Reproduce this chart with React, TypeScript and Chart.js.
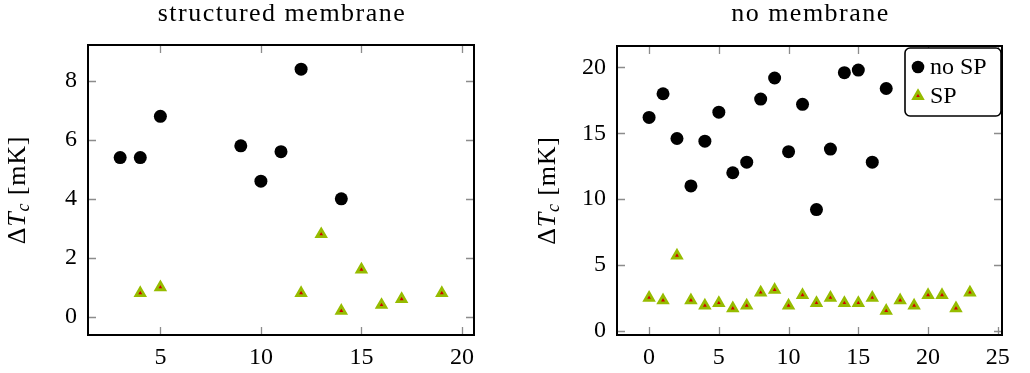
import React, { useEffect, useRef } from "react";
import { Chart, registerables } from "chart.js";

Chart.register(...registerables);

// ---------- data ----------
const leftTitle = "structured membrane";
const rightTitle = "no membrane";
const seriesNames = ["no SP", "SP"];

const leftNoSpX = [3, 4, 5, 9, 10, 11, 12, 14];
const leftNoSpY = [5.4, 5.4, 6.8, 5.8, 4.6, 5.6, 8.4, 4.0];
const leftSpX = [4, 5, 12, 13, 14, 15, 16, 17, 19];
const leftSpY = [0.8, 1.0, 0.8, 2.8, 0.2, 1.6, 0.4, 0.6, 0.8];

const rightNoSpX = [0, 1, 2, 3, 4, 5, 6, 7, 8, 9, 10, 11, 12, 13, 14, 15, 16, 17];
const rightNoSpY = [16.2, 18.0, 14.6, 11.0, 14.4, 16.6, 12.0, 12.8, 17.6, 19.2, 13.6, 17.2, 9.2, 13.8, 19.6, 19.8, 12.8, 18.4];
const rightSpX = [0, 1, 2, 3, 4, 5, 6, 7, 8, 9, 10, 11, 12, 13, 14, 15, 16, 17, 18, 19, 20, 21, 22, 23];
const rightSpY = [2.5, 2.3, 5.7, 2.3, 1.9, 2.1, 1.7, 1.9, 2.9, 3.1, 1.9, 2.7, 2.1, 2.5, 2.1, 2.1, 2.5, 1.5, 2.3, 1.9, 2.7, 2.7, 1.7, 2.9];

const leftXTicks = [5, 10, 15, 20];
const leftYTicks = [0, 2, 4, 6, 8];
const rightXTicks = [0, 5, 10, 15, 20, 25];
const rightYTicks = [0, 5, 10, 15, 20];

const leftXRange = [1.4, 20.6];
const leftYRange = [-0.62, 9.22];
const rightXRange = [-2.3, 25.3];
const rightYRange = [-0.33, 21.63];

// ---------- style ----------
const FONT = "'Liberation Serif', 'Times New Roman', serif";
const GREEN = "#96bc00";
const RED = "#d20000";
const TRI_R = 5;
const TRI_BW = 2.8;

const pts = (xs: number[], ys: number[]) => xs.map((x, i) => ({ x, y: ys[i] }));

function drawTri(ctx: CanvasRenderingContext2D, x: number, y: number, r: number) {
  ctx.save();
  ctx.beginPath();
  let a = 0;
  ctx.moveTo(x + Math.sin(a) * r, y - Math.cos(a) * r);
  a += (2 * Math.PI) / 3;
  ctx.lineTo(x + Math.sin(a) * r, y - Math.cos(a) * r);
  a += (2 * Math.PI) / 3;
  ctx.lineTo(x + Math.sin(a) * r, y - Math.cos(a) * r);
  ctx.closePath();
  ctx.fillStyle = RED;
  ctx.fill();
  ctx.lineWidth = TRI_BW;
  ctx.strokeStyle = GREEN;
  ctx.stroke();
  ctx.restore();
}

type Opts = {
  title: string;
  noSp: { x: number; y: number }[];
  sp: { x: number; y: number }[];
  xTicks: number[];
  yTicks: number[];
  xRange: number[];
  yRange: number[];
  yAxisWidth: number;
  padRight: number;
  top: number;
  labelX: number;
  legend: boolean;
};

function makeConfig(o: Opts): any {
  const deco = {
    id: "pgfDeco",
    beforeDatasetsDraw(chart: any) {
      const { ctx, chartArea: a, scales } = chart;
      ctx.save();
      ctx.strokeStyle = "#8c8c8c";
      ctx.lineWidth = 1.3;
      const tl = 8;
      ctx.beginPath();
      o.xTicks.forEach((v) => {
        const px = Math.round(scales.x.getPixelForValue(v)) + 0.5;
        ctx.moveTo(px, a.bottom);
        ctx.lineTo(px, a.bottom - tl);
        ctx.moveTo(px, a.top);
        ctx.lineTo(px, a.top + tl);
      });
      o.yTicks.forEach((v) => {
        const py = Math.round(scales.y.getPixelForValue(v)) + 0.5;
        ctx.moveTo(a.left, py);
        ctx.lineTo(a.left + tl, py);
        ctx.moveTo(a.right, py);
        ctx.lineTo(a.right - tl, py);
      });
      ctx.stroke();
      ctx.restore();
    },
    afterDraw(chart: any) {
      const { ctx, chartArea: a } = chart;
      ctx.save();
      // frame
      ctx.strokeStyle = "#000";
      ctx.lineWidth = 2;
      ctx.strokeRect(a.left, a.top, a.right - a.left, a.bottom - a.top);
      // title
      ctx.fillStyle = "#000";
      ctx.font = `26px ${FONT}`;
      (ctx as any).letterSpacing = "1.5px";
      ctx.textAlign = "center";
      ctx.textBaseline = "alphabetic";
      ctx.fillText(o.title, (a.left + a.right) / 2 + 1, 21);
      // y label: ΔT_c [mK]
      const segs = [
        { t: "Δ", f: `26px ${FONT}`, dy: 0 },
        { t: "T", f: `italic 26px ${FONT}`, dy: 0 },
        { t: "c", f: `italic 18px ${FONT}`, dy: 4 },
        { t: " [mK]", f: `26px ${FONT}`, dy: 0 },
      ];
      (ctx as any).letterSpacing = "0.8px";
      let total = 0;
      segs.forEach((s) => {
        ctx.font = s.f;
        total += ctx.measureText(s.t).width;
      });
      ctx.translate(o.labelX, (a.top + a.bottom) / 2);
      ctx.rotate(-Math.PI / 2);
      ctx.textAlign = "left";
      let cx = -total / 2;
      segs.forEach((s) => {
        ctx.font = s.f;
        ctx.fillText(s.t, cx, s.dy);
        cx += ctx.measureText(s.t).width;
      });
      ctx.restore();

      if (o.legend) {
        const names = chart.data.datasets.map((d: any) => d.label);
        ctx.save();
        const w = 96;
        const h = 68;
        const lx = a.right - 1 - w;
        const ly = a.top + 2;
        ctx.beginPath();
        ctx.roundRect(lx, ly, w, h, 5);
        ctx.fillStyle = "#fff";
        ctx.fill();
        ctx.lineWidth = 1.6;
        ctx.strokeStyle = "#000";
        ctx.stroke();
        ctx.beginPath();
        ctx.arc(lx + 13, ly + 19, 6.3, 0, Math.PI * 2);
        ctx.fillStyle = "#000";
        ctx.fill();
        drawTri(ctx, lx + 13, ly + 48, TRI_R);
        ctx.fillStyle = "#000";
        ctx.font = `24px ${FONT}`;
        ctx.textAlign = "left";
        ctx.textBaseline = "alphabetic";
        ctx.fillText(names[0], lx + 25, ly + 26);
        ctx.fillText(names[1], lx + 25, ly + 55);
        ctx.restore();
      }
    },
  };

  const tickFont = { family: FONT, size: 24 };
  return {
    type: "scatter",
    data: {
      datasets: [
        {
          label: seriesNames[0],
          data: o.noSp,
          pointStyle: "circle",
          pointRadius: 6.5,
          pointHoverRadius: 6.5,
          backgroundColor: "#000",
          borderWidth: 0,
        },
        {
          label: seriesNames[1],
          data: o.sp,
          pointStyle: "triangle",
          pointRadius: TRI_R,
          pointHoverRadius: TRI_R,
          backgroundColor: RED,
          borderColor: GREEN,
          borderWidth: TRI_BW,
        },
      ],
    },
    options: {
      responsive: false,
      animation: false,
      devicePixelRatio: 1,
      layout: { padding: { left: 0, right: o.padRight, top: o.top, bottom: 0 } },
      plugins: { legend: { display: false }, tooltip: { enabled: false }, title: { display: false } },
      scales: {
        x: {
          type: "linear",
          min: o.xRange[0],
          max: o.xRange[1],
          grid: { display: false, drawTicks: false, tickLength: 0 },
          border: { display: false },
          ticks: { font: tickFont, color: "#000", padding: 8, maxRotation: 0, autoSkip: false, callback: (v: any) => String(v) },
          afterBuildTicks: (s: any) => {
            s.ticks = o.xTicks.map((v) => ({ value: v }));
          },
          afterFit: (s: any) => {
            s.height = 38;
          },
        },
        y: {
          type: "linear",
          min: o.yRange[0],
          max: o.yRange[1],
          grid: { display: false, drawTicks: false, tickLength: 0 },
          border: { display: false },
          ticks: { font: tickFont, color: "#000", padding: 11, autoSkip: false, callback: (v: any) => String(v) },
          afterBuildTicks: (s: any) => {
            s.ticks = o.yTicks.map((v) => ({ value: v }));
          },
          afterFit: (s: any) => {
            s.width = o.yAxisWidth;
          },
        },
      },
    },
    plugins: [deco],
  };
}

export default function App() {
  const r1 = useRef<HTMLCanvasElement>(null);
  const r2 = useRef<HTMLCanvasElement>(null);

  useEffect(() => {
    const c1 = new Chart(
      r1.current as HTMLCanvasElement,
      makeConfig({
        title: leftTitle,
        noSp: pts(leftNoSpX, leftNoSpY),
        sp: pts(leftSpX, leftSpY),
        xTicks: leftXTicks,
        yTicks: leftYTicks,
        xRange: leftXRange,
        yRange: leftYRange,
        yAxisWidth: 88,
        padRight: 41,
        top: 45,
        labelX: 25,
        legend: false,
      })
    );
    const c2 = new Chart(
      r2.current as HTMLCanvasElement,
      makeConfig({
        title: rightTitle,
        noSp: pts(rightNoSpX, rightNoSpY),
        sp: pts(rightSpX, rightSpY),
        xTicks: rightXTicks,
        yTicks: rightYTicks,
        xRange: rightXRange,
        yRange: rightYRange,
        yAxisWidth: 102,
        padRight: 28,
        top: 46,
        labelX: 40,
        legend: true,
      })
    );
    return () => {
      c1.destroy();
      c2.destroy();
    };
  }, []);

  return (
    <div style={{ position: "fixed", left: 0, top: 0, width: 1030, height: 373, background: "#fff" }}>
      <canvas ref={r1} width={515} height={373} style={{ position: "absolute", left: 0, top: 0, width: 515, height: 373 }} />
      <canvas ref={r2} width={515} height={373} style={{ position: "absolute", left: 515, top: 0, width: 515, height: 373 }} />
    </div>
  );
}
